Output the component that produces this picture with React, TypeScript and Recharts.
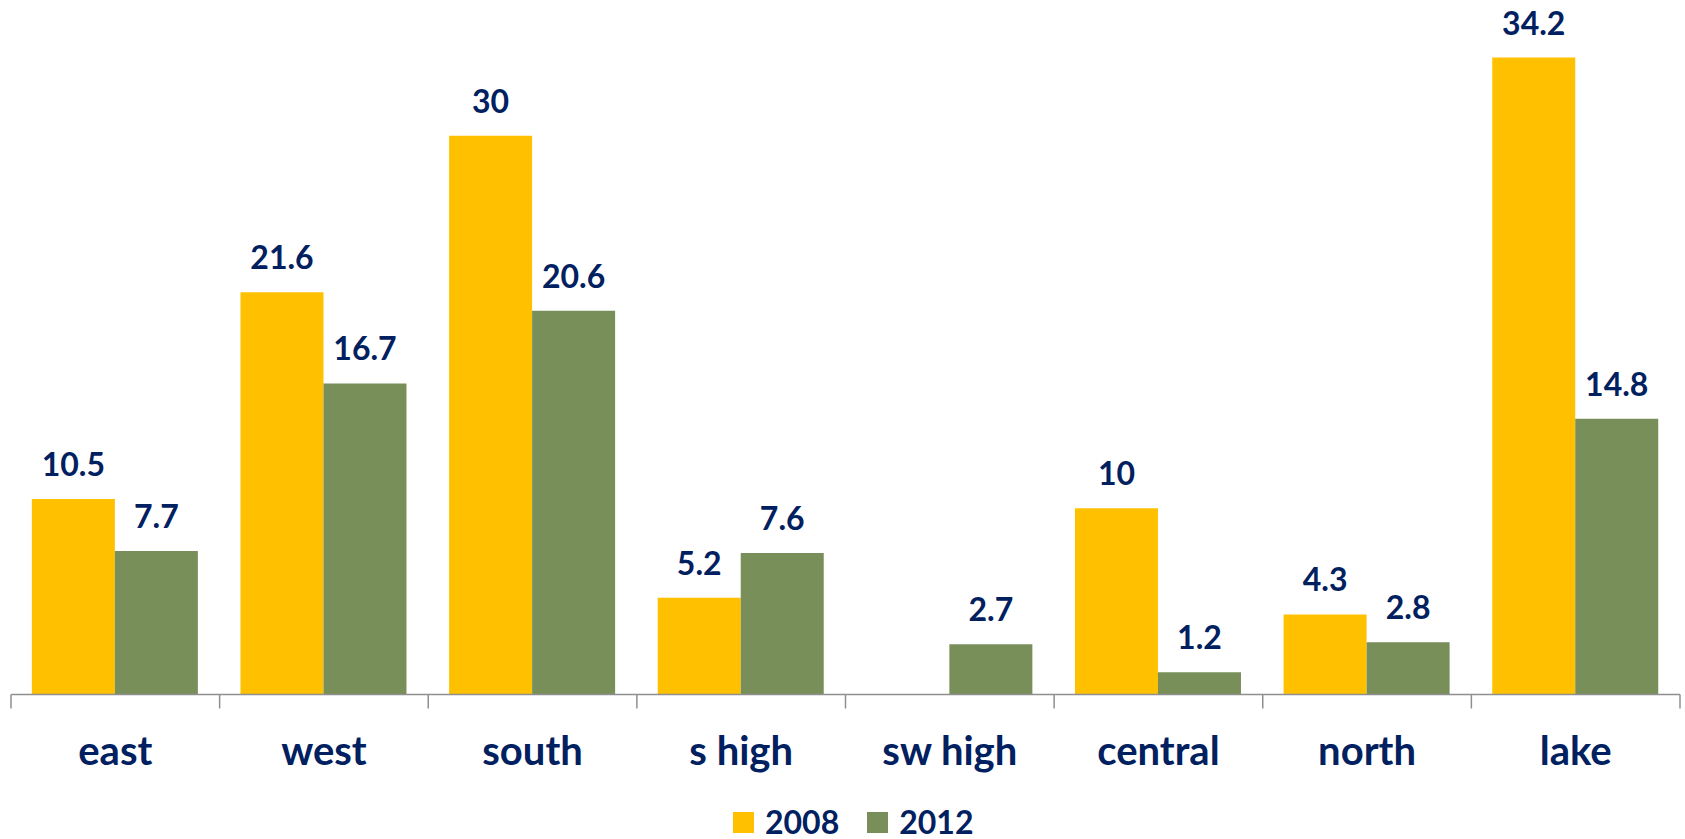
import React from 'react';
import { BarChart, Bar, XAxis, YAxis, Legend, LabelList } from 'recharts';

const categories = ['east', 'west', 'south', 's high', 'sw high', 'central', 'north', 'lake'];
const values2008: (number | null)[] = [10.5, 21.6, 30, 5.2, null, 10, 4.3, 34.2];
const values2012: (number | null)[] = [7.7, 16.7, 20.6, 7.6, 2.7, 1.2, 2.8, 14.8];
const seriesNames = ['2008', '2012'];

const data = categories.map((c, i) => ({ name: c, v2008: values2008[i], v2012: values2012[i] }));

const W = 1685;
const H = 839;
const MARGIN = { top: 24, right: 5, left: 11, bottom: 44.5 };
const XAXIS_H = 100;
const NAVY = '#002060';
const YELLOW = '#FFC000';
const GREEN = '#798F5A';
const AXIS_GRAY = '#8f8f8f';
const FONT = 'Lato, "Open Sans", sans-serif';
const BAND = (W - MARGIN.left - MARGIN.right) / categories.length;

const CategoryTick = (props: any) => {
  const { x, y, payload, index } = props;
  const left = x - BAND / 2;
  const right = x + BAND / 2;
  return (
    <g>
      <line x1={left} y1={y} x2={left} y2={y + 14} stroke={AXIS_GRAY} strokeWidth={1.5} />
      {index === categories.length - 1 && (
        <line x1={right} y1={y} x2={right} y2={y + 14} stroke={AXIS_GRAY} strokeWidth={1.5} />
      )}
      <text x={x} y={y + 70.5} textAnchor="middle" fill={NAVY} fontSize={40} fontWeight={700} fontFamily={FONT}>
        {payload.value}
      </text>
    </g>
  );
};

const ValueLabel = (props: any) => {
  const { x, y, width, value } = props;
  if (value === null || value === undefined) return null;
  return (
    <text x={x + width / 2} y={y - 23} textAnchor="middle" fill={NAVY} fontSize={32} fontWeight={700} fontFamily={FONT}>
      {value}
    </text>
  );
};

const LegendContent = () => {
  const colors = [YELLOW, GREEN];
  return (
    <div style={{ display: 'flex', alignItems: 'center', fontFamily: FONT, fontWeight: 700, fontSize: 32, lineHeight: 1, color: NAVY }}>
      {seriesNames.map((n, i) => (
        <div key={n} style={{ display: 'flex', alignItems: 'center', marginRight: i === 0 ? 28 : 0 }}>
          <div style={{ width: 21, height: 21, background: colors[i], marginRight: 11 }} />
          <span>{n}</span>
        </div>
      ))}
    </div>
  );
};

export default function App() {
  return (
    <div style={{ position: 'absolute', left: 0, top: 0, width: W, height: H, background: '#fff' }}>
      <BarChart width={W} height={H} data={data} margin={MARGIN} barCategoryGap="10%" barGap={0}>
        <XAxis
          dataKey="name"
          height={XAXIS_H}
          tickSize={0}
          tickMargin={0}
          tickLine={false}
          axisLine={{ stroke: AXIS_GRAY, strokeWidth: 1.5 }}
          tick={<CategoryTick />}
          interval={0}
        />
        <YAxis hide domain={[0, 36]} />
        <Legend
          verticalAlign="middle"
          align="center"
          layout="horizontal"
          content={<LegendContent />}
          wrapperStyle={{ left: 733, top: 806, width: 'auto', height: 32 }}
        />
        <Bar dataKey="v2008" name="2008" fill={YELLOW} isAnimationActive={false}>
          <LabelList dataKey="v2008" content={<ValueLabel />} />
        </Bar>
        <Bar dataKey="v2012" name="2012" fill={GREEN} isAnimationActive={false}>
          <LabelList dataKey="v2012" content={<ValueLabel />} />
        </Bar>
      </BarChart>
    </div>
  );
}
